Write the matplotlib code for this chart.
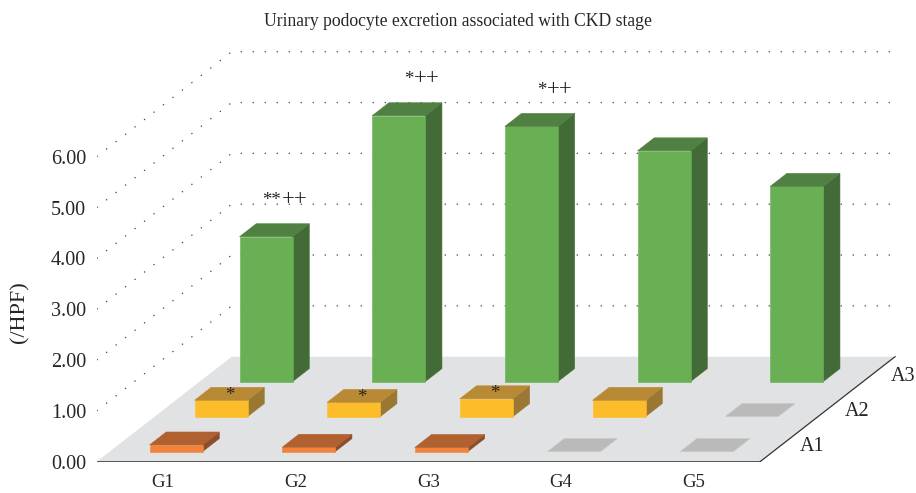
import matplotlib
matplotlib.use("Agg")
import matplotlib.pyplot as plt
from matplotlib.patches import Polygon

# ---------------- data ----------------
title = "Urinary podocyte excretion associated with CKD stage"
categories = ["G1", "G2", "G3", "G4", "G5"]
series = ["A1", "A2", "A3"]
a1_values = [0.13, 0.085, 0.08, 0.0, 0.0]
a2_values = [0.32, 0.28, 0.35, 0.32, 0.0]
a3_values = [2.85, 5.23, 5.02, 4.54, 3.84]
a2_marks = ["*", "*", "*", "", ""]
a3_marks = ["**++", "*++", "*++", "", ""]
value_ticks = [0, 1, 2, 3, 4, 5, 6]
y_label = "(/HPF)"

values = [a1_values, a2_values, a3_values]
marks = [["", "", "", "", ""], a2_marks, a3_marks]

# ---------------- style / layout ----------------
plt.rcParams["font.family"] = ["Liberation Serif", "DejaVu Serif"]
TXT = "#262626"
face_cols = [  # (front, top, side)
    ("#f0843a", "#b0612f", "#8b4e2b"),
    ("#fdbd2a", "#b98a35", "#9a7733"),
    ("#69b054", "#508042", "#426b38"),
]
zero_col = "#b9bab9"
floor_col = "#e1e2e4"

W, H = 916, 493
X0, Y0 = 96.7, 461.7          # front-left floor corner (pixels)
CAT_PX, VAL_PX = 132.67, 50.83
DEPTH_PX = (135.0, 105.0)

fig = plt.figure(figsize=(W / 100, H / 100), dpi=100)
ax = fig.add_axes([X0 / W, (H - Y0) / H, (W - X0) / W, Y0 / H])
ax.set_xlim(0, (W - X0) / CAT_PX)
ax.set_ylim(0, Y0 / VAL_PX)
for s in ax.spines.values():
    s.set_visible(False)

DX = DEPTH_PX[0] / CAT_PX
DY = DEPTH_PX[1] / VAL_PX
n = len(categories)
nr = len(series)


def P(x, f, v):
    return (x + f * DX, f * DY + v)


# floor
ax.add_patch(Polygon([P(0, 0, 0), P(n, 0, 0), P(n, 1, 0), P(0, 1, 0)],
                     closed=True, facecolor=floor_col, edgecolor="none", zorder=1))
ax.plot([0, n], [0, 0], color="#555555", lw=1.4, zorder=2, solid_capstyle="butt")
ax.plot([P(n, 0, 0)[0], P(n, 1, 0)[0]], [0, DY], color="#333333", lw=0.9, zorder=2)

# gridlines (side wall + back wall)
for t in value_ticks[1:]:
    xs = [0, DX, n + DX]
    ys = [t, DY + t, DY + t]
    ax.plot(xs, ys, color="#404040", lw=0.9, linestyle=(0, (1, 8.6)), zorder=1)

# bars
BW = 0.4
F0, F1 = 0.29, 0.66
for r in reversed(range(nr)):
    front_c, top_c, side_c = face_cols[r]
    for i, v in enumerate(values[r]):
        f0 = (r + F0) / nr
        f1 = (r + F1) / nr
        xa = i + 0.5 - BW / 2
        xb = i + 0.5 + BW / 2
        top = [P(xa, f0, v), P(xb, f0, v), P(xb, f1, v), P(xa, f1, v)]
        if v == 0:
            ax.add_patch(Polygon(top, closed=True, facecolor=zero_col,
                                 edgecolor="#c8c9c8", lw=0.5, zorder=3))
            continue
        front = [P(xa, f0, 0), P(xb, f0, 0), P(xb, f0, v), P(xa, f0, v)]
        side = [P(xb, f0, 0), P(xb, f1, 0), P(xb, f1, v), P(xb, f0, v)]
        ax.add_patch(Polygon(side, closed=True, facecolor=side_c,
                             edgecolor=side_c, lw=0.4, zorder=3))
        ax.add_patch(Polygon(front, closed=True, facecolor=front_c,
                             edgecolor=front_c, lw=0.4, zorder=3))
        ax.add_patch(Polygon(top, closed=True, facecolor=top_c,
                             edgecolor=top_c, lw=0.4, zorder=3))

        m = marks[r][i]
        if m:
            fm = (r + (F0 + F1) / 2) / nr
            cx, cy = P(i + 0.5, fm, v)
            if r == nr - 1:
                bx, by = P(i + 0.5, f1, v)
                stars = m.rstrip("+")
                plus = m[len(stars):]
                ax.annotate(stars, (cx, by), xytext=(4.6, 13.4), textcoords="offset points",
                            ha="right", va="baseline", fontsize=13.5, color=TXT, zorder=5)
                ax.annotate(plus, (cx, by), xytext=(5.2, 13.4), textcoords="offset points",
                            ha="left", va="baseline", fontsize=16.5, color=TXT, zorder=5)
            else:
                ax.annotate(m, (cx, cy), xytext=(0, -4.2), textcoords="offset points",
                            ha="center", va="baseline", fontsize=13.5, color=TXT, zorder=5)

# axes ticks
ax.set_yticks(value_ticks)
ax.set_yticklabels([f"{t:.2f}" for t in value_ticks])
ax.tick_params(axis="y", length=0, pad=7.7, labelsize=14.5, labelcolor=TXT)
ax.set_xticks([i + 0.5 for i in range(n)])
ax.set_xticklabels(categories)
ax.tick_params(axis="x", length=0, pad=8.5, labelsize=13.5, labelcolor=TXT)

# series labels on right depth edge
for r, name in enumerate(series):
    fx, fy = P(n, (r + 0.5) / nr, 0)
    ax.text(fx + 30 / CAT_PX, fy - 2.5 / VAL_PX, name, ha="center", va="center",
            fontsize=14.5, color=TXT)

fig.text(20 / W, 1 - 311.7 / H, y_label, rotation=90, ha="center", va="center",
         fontsize=16, color=TXT)
fig.text(458.3 / W, 1 - 26 / H, title, ha="center", va="baseline",
         fontsize=12.7, color=TXT)

fig.savefig("out.png", dpi=100)
